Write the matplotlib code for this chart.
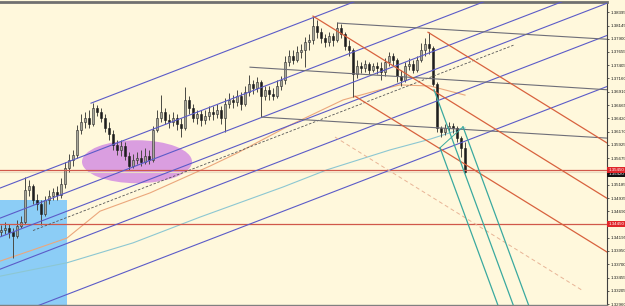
"""
MT4 风格截图复刻: 1.3xxx 报价 K 线 + 趋势线 / 通道 / 叉子
"""

import numpy as np
import matplotlib
matplotlib.use('Agg')
import matplotlib.pyplot as plt
from matplotlib.patches import Ellipse, Rectangle
from matplotlib.transforms import blended_transform_factory

# ---- K 线数据 (单位: 点, 价格 * 10000) ----
opens = [13430, 13434, 13438, 13430, 13423, 13441, 13449, 13508, 13516, 13490,
         13482, 13464, 13490, 13497, 13505, 13499, 13520, 13549, 13564, 13574,
         13620, 13635, 13642, 13631, 13661, 13654, 13642, 13624, 13613, 13592,
         13583, 13590, 13572, 13553, 13564, 13568, 13561, 13572, 13564, 13620,
         13642, 13654, 13639, 13635, 13642, 13631, 13624, 13676, 13661, 13642,
         13650, 13639, 13646, 13654, 13650, 13657, 13642, 13668, 13676, 13672,
         13683, 13668, 13691, 13706, 13698, 13709, 13683, 13695, 13687, 13683,
         13702, 13713, 13747, 13758, 13750, 13765, 13769, 13784, 13788, 13814,
         13802, 13791, 13784, 13795, 13788, 13810, 13799, 13776, 13769, 13724,
         13739, 13735, 13743, 13732, 13739, 13735, 13728, 13747, 13758, 13750,
         13721, 13713, 13739, 13743, 13732, 13750, 13769, 13780, 13773, 13706,
         13624, 13616, 13624, 13628, 13624, 13605, 13587]
highs = [13443, 13449, 13445, 13438, 13453, 13460, 13533, 13527, 13520, 13501,
         13490, 13497, 13508, 13512, 13516, 13531, 13561, 13575, 13583, 13629,
         13650, 13654, 13657, 13670, 13667, 13661, 13650, 13635, 13620, 13601,
         13601, 13598, 13579, 13575, 13579, 13583, 13587, 13583, 13628, 13657,
         13685, 13661, 13650, 13654, 13650, 13642, 13700, 13683, 13668, 13657,
         13657, 13657, 13665, 13665, 13668, 13665, 13680, 13689, 13685, 13695,
         13691, 13702, 13722, 13713, 13719, 13713, 13702, 13702, 13698, 13713,
         13721, 13758, 13769, 13769, 13776, 13780, 13793, 13799, 13832, 13825,
         13810, 13799, 13802, 13801, 13821, 13817, 13802, 13788, 13773, 13750,
         13747, 13750, 13747, 13745, 13747, 13747, 13754, 13765, 13763, 13754,
         13732, 13747, 13754, 13750, 13758, 13782, 13791, 13802, 13776, 13709,
         13628, 13631, 13635, 13633, 13628, 13609, 13598]
lows = [13423, 13427, 13419, 13382, 13419, 13438, 13445, 13497, 13482, 13471,
        13443, 13460, 13482, 13490, 13490, 13494, 13512, 13542, 13553, 13568,
        13613, 13624, 13624, 13628, 13646, 13635, 13616, 13601, 13583, 13574,
        13572, 13564, 13546, 13549, 13557, 13553, 13557, 13557, 13561, 13616,
        13635, 13631, 13624, 13628, 13620, 13607, 13620, 13650, 13635, 13631,
        13628, 13631, 13639, 13639, 13642, 13631, 13616, 13661, 13661, 13665,
        13657, 13665, 13683, 13687, 13691, 13644, 13676, 13676, 13676, 13680,
        13695, 13706, 13739, 13743, 13747, 13754, 13737, 13769, 13780, 13791,
        13782, 13775, 13776, 13776, 13784, 13791, 13769, 13758, 13681, 13717,
        13726, 13728, 13724, 13728, 13724, 13713, 13721, 13739, 13739, 13709,
        13702, 13709, 13732, 13726, 13728, 13747, 13758, 13762, 13702, 13616,
        13607, 13611, 13618, 13614, 13598, 13570, 13540]
closes = [13434, 13438, 13430, 13423, 13441, 13449, 13508, 13516, 13490, 13482,
          13464, 13490, 13497, 13505, 13499, 13520, 13549, 13564, 13574, 13620,
          13635, 13642, 13631, 13661, 13654, 13642, 13624, 13613, 13592, 13583,
          13590, 13572, 13553, 13564, 13568, 13561, 13572, 13564, 13620, 13642,
          13654, 13639, 13635, 13642, 13631, 13624, 13676, 13661, 13642, 13650,
          13639, 13646, 13654, 13650, 13657, 13642, 13668, 13676, 13672, 13683,
          13668, 13691, 13706, 13698, 13709, 13683, 13695, 13687, 13683, 13702,
          13713, 13747, 13758, 13750, 13765, 13769, 13784, 13788, 13814, 13802,
          13791, 13784, 13795, 13788, 13810, 13799, 13776, 13769, 13724, 13739,
          13735, 13743, 13732, 13739, 13735, 13728, 13747, 13758, 13750, 13721,
          13713, 13739, 13743, 13732, 13750, 13769, 13780, 13773, 13706, 13624,
          13616, 13624, 13628, 13624, 13605, 13587, 13542]

# 均线采样 (bar, 点)
ma_slow_bar = [-0.25, 8, 16.5, 24.75, 37.25, 52.25, 59, 72.25, 85.5, 94.75, 99.75, 107.25, 116]
ma_slow_val = [13376, 13397, 13419, 13469, 13503, 13553, 13577, 13629, 13676, 13695, 13704, 13702, 13685]
ma_long_bar = [-0.25, 16.5, 33, 49.75, 70.5, 81.5, 97.25, 107.25, 116]
ma_long_val = [13348, 13373, 13410, 13458, 13514, 13546, 13583, 13603, 13624]

# 趋势线 (起点, 第二点), 单位 (bar, 点)
blue_lines = [((22.5, 13670), (149.75, 14035)),
              ((-0.25, 13512), (149.75, 13942)),
              ((-0.25, 13456), (149.75, 13886)),
              ((-0.25, 13421), (149.75, 13851)),
              ((-0.25, 13361), (149.75, 13791)),
              ((-0.25, 13266), (149.75, 13696))]
dashed_line = ((8, 13433), (128.5, 13779))
gray_lines = [((84.25, 13819), (151.5, 13789)),
              ((62.25, 13737), (151.5, 13695)),
              ((65.25, 13644), (151.5, 13605))]
red_lines = [((106.75, 13802), (151.5, 13596)),
             ((78, 13832), (151.5, 13493)),
             ((88.5, 13683), (151.5, 13393))]
salmon_dash = ((83.5, 13607), (145.25, 13322))
fork_a = (108.25, 13695)
fork_b = (109.75, 13587)
fork_c = (115.5, 13626)

hline_prices = [1.35450, 1.34450]
tick_prices = [1.38395, 1.38145, 1.37900, 1.37655, 1.37405, 1.37160, 1.36910,
               1.36665, 1.36420, 1.36170, 1.35925, 1.35675, 1.35185, 1.34935,
               1.34690, 1.34195, 1.33950, 1.33700, 1.33455, 1.33205, 1.32960]

# 区域标记
box_bars = (-0.25, 16.4)
box_top = 13490
ellipse_center = (34, 13561)
ellipse_size = (27.5, 80)

BG = '#FFF8DC'
XMAX = 151.5
FONT = ['Liberation Sans', 'DejaVu Sans']


def ray(p1, p2, x_end):
    """两点连线延长到 x_end"""
    (x1, y1), (x2, y2) = p1, p2
    k = (y2 - y1) / (x2 - x1)
    return [x1, x_end], [y1, y1 + k * (x_end - x1)]


def main():
    fig = plt.figure(figsize=(6.25, 3.06), dpi=100, facecolor=BG)
    ax = fig.add_axes([0, 1 / 306, 607 / 625, 303 / 306])
    ax.set_facecolor(BG)
    ax.set_xlim(-0.25, XMAX)
    ax.set_ylim(13294.4, 13858.3)

    # 背景对象
    ax.add_patch(Rectangle((box_bars[0], 13000), box_bars[1] - box_bars[0], box_top - 13000,
                           facecolor='#8CCDF6', edgecolor='none', zorder=1))
    ax.add_patch(Ellipse(ellipse_center, ellipse_size[0], ellipse_size[1],
                         facecolor='#DA9EE0', edgecolor='none', zorder=1))

    # K 线
    o = np.array(opens, float)
    h = np.array(highs, float)
    l = np.array(lows, float)
    c = np.array(closes, float)
    x = np.arange(len(c))
    ax.vlines(x, l, h, color='#4a4a44', lw=0.7, zorder=3)
    up = c >= o
    body_lo = np.minimum(o, c)
    body_h = np.maximum(np.abs(c - o), 1.2)
    ax.bar(x[up], body_h[up], bottom=body_lo[up], width=0.5,
           color='#A8A89C', edgecolor='#2a2a2a', lw=0.4, zorder=3.2)
    ax.bar(x[~up], body_h[~up], bottom=body_lo[~up], width=0.5,
           color='#1e1e1e', edgecolor='#1e1e1e', lw=0.4, zorder=3.2)

    # 均线
    ax.plot(ma_slow_bar, ma_slow_val, color='#EBA77C', lw=0.8, zorder=2.5)
    ax.plot(ma_long_bar, ma_long_val, color='#8CC7D2', lw=0.8, zorder=2.5)

    # 水平线
    for p in hline_prices:
        ax.axhline(p * 10000, color='#D0584A', lw=0.9, zorder=4)
    ax.axhline(closes[-1], color='#E9DCC4', lw=0.8, zorder=2)

    # 通道线
    for p1, p2 in blue_lines:
        xs, ys = ray(p1, p2, XMAX + 2)
        ax.plot(xs, ys, color='#5B5BC8', lw=0.8, zorder=4)
    ax.plot(*zip(*dashed_line), color='#555555', lw=0.6, ls=(0, (3, 2)), zorder=4)
    for p1, p2 in gray_lines:
        xs, ys = ray(p1, p2, XMAX + 2)
        ax.plot(xs, ys, color='#6E6E78', lw=0.8, zorder=4)
    for p1, p2 in red_lines:
        xs, ys = ray(p1, p2, XMAX + 2)
        ax.plot(xs, ys, color='#D8623E', lw=0.9, zorder=4)
    ax.plot(*zip(*salmon_dash), color='#E8B496', lw=0.7, ls=(0, (4, 3)), zorder=4)

    # 叉子 (Andrews pitchfork)
    mid = ((fork_b[0] + fork_c[0]) / 2, (fork_b[1] + fork_c[1]) / 2)
    k = (mid[1] - fork_a[1]) / (mid[0] - fork_a[0])
    x_end = 140
    for px, py in (fork_a, fork_b, fork_c):
        ax.plot([px, x_end], [py, py + k * (x_end - px)], color='#3AA99F', lw=0.9, zorder=4.5)
    ax.plot([fork_b[0], fork_c[0]], [fork_b[1], fork_c[1]], color='#3AA99F', lw=0.7, zorder=4.5)

    # 坐标轴
    ax.spines['left'].set_visible(False)
    ax.spines['top'].set_color('#707070')
    ax.spines['top'].set_linewidth(2)
    ax.spines['bottom'].set_color('#808080')
    ax.spines['bottom'].set_linewidth(1)
    ax.spines['right'].set_color('#404040')
    ax.spines['right'].set_linewidth(0.8)
    ax.set_xticks([])
    ax.yaxis.tick_right()
    ax.set_yticks([p * 10000 for p in tick_prices])
    ax.set_yticklabels([f'{p:.5f}' for p in tick_prices],
                       fontsize=3.2, color='#1a1a1a', family=FONT)
    ax.tick_params(axis='y', direction='out', length=1.5, width=0.5, pad=1, colors='#1a1a1a')

    # 右侧价格标签
    tr = blended_transform_factory(ax.transAxes, ax.transData)
    for p in hline_prices:
        ax.text(1.002, p * 10000, f'{p:.5f}', transform=tr, fontsize=3.2, color='white',
                va='center', ha='left', family=FONT, zorder=10,
                bbox=dict(boxstyle='square,pad=0.25', facecolor='#E0262A', edgecolor='none'),
                clip_on=False)
    ax.text(1.002, closes[-1] - 4, f'{closes[-1] / 10000:.5f}', transform=tr, fontsize=3.2,
            color='white', va='center', ha='left', family=FONT,
            zorder=9, bbox=dict(boxstyle='square,pad=0.2', facecolor='#111111', edgecolor='none'),
            clip_on=False)

    fig.savefig('out.png', dpi=100, facecolor=BG)
    plt.close(fig)


if __name__ == '__main__':
    main()
